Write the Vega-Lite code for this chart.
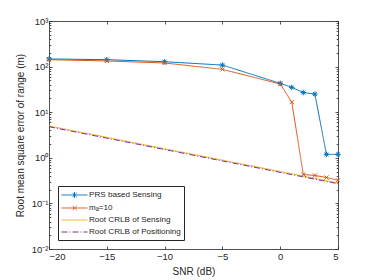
{
  "$schema": "https://vega.github.io/schema/vega-lite/v6.json",
  "width": 289,
  "height": 228,
  "autosize": {"type": "none"},
  "padding": {"left": 49, "top": 21, "right": 36, "bottom": 31},
  "background": "white",
  "config": {
    "view": {"stroke": null},
    "font": "Liberation Sans",
    "axis": {
      "grid": false,
      "domainColor": "#262626",
      "domainWidth": 0.8,
      "tickColor": "#262626",
      "tickWidth": 0.8,
      "labelColor": "#262626",
      "titleColor": "#262626",
      "labelFont": "Liberation Sans",
      "titleFont": "Liberation Sans",
      "labelFontSize": 9.5,
      "titleFontSize": 10,
      "titleFontWeight": "normal"
    }
  },
  "data": {
    "values": [
      {"snr": -20, "value": 147, "series": "PRS based Sensing"},
      {"snr": -15, "value": 142, "series": "PRS based Sensing"},
      {"snr": -10, "value": 128, "series": "PRS based Sensing"},
      {"snr": -5, "value": 108, "series": "PRS based Sensing"},
      {"snr": 0, "value": 43, "series": "PRS based Sensing"},
      {"snr": 1, "value": 35, "series": "PRS based Sensing"},
      {"snr": 2, "value": 27, "series": "PRS based Sensing"},
      {"snr": 3, "value": 25, "series": "PRS based Sensing"},
      {"snr": 4, "value": 1.19, "series": "PRS based Sensing"},
      {"snr": 5, "value": 1.19, "series": "PRS based Sensing"},
      {"snr": -20, "value": 142, "series": "mₐ=10"},
      {"snr": -15, "value": 133, "series": "mₐ=10"},
      {"snr": -10, "value": 120, "series": "mₐ=10"},
      {"snr": -5, "value": 87, "series": "mₐ=10"},
      {"snr": 0, "value": 41.5, "series": "mₐ=10"},
      {"snr": 1, "value": 16.7, "series": "mₐ=10"},
      {"snr": 2, "value": 0.43, "series": "mₐ=10"},
      {"snr": 3, "value": 0.41, "series": "mₐ=10"},
      {"snr": 4, "value": 0.37, "series": "mₐ=10"},
      {"snr": 5, "value": 0.32, "series": "mₐ=10"},
      {"snr": -20, "value": 5.0, "series": "Root CRLB of Sensing"},
      {"snr": -15, "value": 2.81, "series": "Root CRLB of Sensing"},
      {"snr": -10, "value": 1.58, "series": "Root CRLB of Sensing"},
      {"snr": -5, "value": 0.89, "series": "Root CRLB of Sensing"},
      {"snr": 0, "value": 0.5, "series": "Root CRLB of Sensing"},
      {"snr": 1, "value": 0.446, "series": "Root CRLB of Sensing"},
      {"snr": 2, "value": 0.397, "series": "Root CRLB of Sensing"},
      {"snr": 3, "value": 0.354, "series": "Root CRLB of Sensing"},
      {"snr": 4, "value": 0.316, "series": "Root CRLB of Sensing"},
      {"snr": 5, "value": 0.281, "series": "Root CRLB of Sensing"},
      {"snr": -20, "value": 4.8, "series": "Root CRLB of Positioning"},
      {"snr": -15, "value": 2.7, "series": "Root CRLB of Positioning"},
      {"snr": -10, "value": 1.52, "series": "Root CRLB of Positioning"},
      {"snr": -5, "value": 0.854, "series": "Root CRLB of Positioning"},
      {"snr": 0, "value": 0.48, "series": "Root CRLB of Positioning"},
      {"snr": 1, "value": 0.428, "series": "Root CRLB of Positioning"},
      {"snr": 2, "value": 0.381, "series": "Root CRLB of Positioning"},
      {"snr": 3, "value": 0.34, "series": "Root CRLB of Positioning"},
      {"snr": 4, "value": 0.303, "series": "Root CRLB of Positioning"},
      {"snr": 5, "value": 0.27, "series": "Root CRLB of Positioning"}
    ]
  },
  "layer": [
    {
      "mark": {"type": "line", "strokeWidth": 1, "clip": true},
      "encoding": {
        "x": {
          "field": "snr", "type": "quantitative",
          "scale": {"domain": [-20, 5], "nice": false},
          "axis": {
            "orient": "bottom",
            "title": "SNR (dB)",
            "values": [-20, -15, -10, -5, 0, 5],
            "tickSize": -3,
            "labelPadding": 5,
            "titlePadding": 6
          }
        },
        "y": {
          "field": "value", "type": "quantitative",
          "scale": {"type": "log", "domain": [0.01, 1000], "nice": false},
          "axis": {
            "orient": "left",
            "title": "Root mean square error of range (m)",
            "values": [0.01,0.02,0.03,0.04,0.05,0.06,0.07,0.08,0.09,0.1,0.2,0.3,0.4,0.5,0.6,0.7,0.8,0.9,1,2,3,4,5,6,7,8,9,10,20,30,40,50,60,70,80,90,100,200,300,400,500,600,700,800,900,1000],
            "labelExpr": "datum.value == 1000 ? '10³' : datum.value == 100 ? '10²' : datum.value == 10 ? '10¹' : datum.value == 1 ? '10⁰' : datum.value == 0.1 ? '10⁻¹' : datum.value == 0.01 ? '10⁻²' : ''",
            "tickSize": {"condition": {"test": "indexof([0.01,0.1,1,10,100,1000], datum.value) >= 0", "value": -3}, "value": -1.8},
            "labelPadding": 4,
            "titlePadding": 6
          }
        },
        "color": {
          "field": "series", "type": "nominal",
          "scale": {
            "domain": ["PRS based Sensing", "mₐ=10", "Root CRLB of Sensing", "Root CRLB of Positioning"],
            "range": ["#0072BD", "#D95319", "#EDB120", "#7E2F8E"]
          },
          "legend": {
            "title": null,
            "orient": "none",
            "legendX": 9,
            "legendY": 165,
            "strokeColor": "#262626",
            "fillColor": "white",
            "padding": 3,
            "labelFont": "Liberation Sans",
            "labelFontSize": 8.1,
            "labelColor": "#262626",
            "symbolSize": 121,
            "symbolStrokeWidth": 1,
            "rowPadding": 1,
            "labelOffset": 16,
            "encode": {
              "symbols": {
                "update": {
                  "shape": {"signal": "datum.value == 'PRS based Sensing' ? 'M-1,0H3.73M1.365,-0.55V0.55M0.965,-0.4L1.765,0.4M0.965,0.4L1.765,-0.4' : datum.value == 'mₐ=10' ? 'M-1,0H3.73M0.965,-0.4L1.765,0.4M0.965,0.4L1.765,-0.4' : 'M-1,0H3.73'"},
                  "strokeDash": {"signal": "datum.value == 'Root CRLB of Positioning' ? [6,2,1,2] : []"},
                  "fill": {"value": "transparent"}
                }
              }
            }
          }
        },
        "strokeDash": {
          "field": "series", "type": "nominal",
          "scale": {
            "domain": ["PRS based Sensing", "mₐ=10", "Root CRLB of Sensing", "Root CRLB of Positioning"],
            "range": [[1, 0], [1, 0], [1, 0], [6, 2, 1, 2]]
          },
          "legend": null
        },
        "order": {"field": "snr"}
      }
    },
    {
      "transform": [{"filter": "datum.series == 'PRS based Sensing' || datum.series == 'mₐ=10'"}],
      "mark": {"type": "point", "filled": false, "strokeWidth": 1, "size": 30, "opacity": 1},
      "encoding": {
        "x": {
          "field": "snr", "type": "quantitative",
          "axis": {"orient": "top", "title": null, "labels": false, "values": [-20, -15, -10, -5, 0, 5], "tickSize": -3, "domain": true}
        },
        "y": {
          "field": "value", "type": "quantitative",
          "axis": {
            "orient": "right", "title": null, "labels": false,
            "values": [0.01,0.02,0.03,0.04,0.05,0.06,0.07,0.08,0.09,0.1,0.2,0.3,0.4,0.5,0.6,0.7,0.8,0.9,1,2,3,4,5,6,7,8,9,10,20,30,40,50,60,70,80,90,100,200,300,400,500,600,700,800,900,1000],
            "tickSize": {"condition": {"test": "indexof([0.01,0.1,1,10,100,1000], datum.value) >= 0", "value": -3}, "value": -1.8}
          }
        },
        "color": {"field": "series", "type": "nominal", "legend": null},
        "shape": {
          "field": "series", "type": "nominal",
          "scale": {
            "domain": ["PRS based Sensing", "mₐ=10"],
            "range": ["M-1,0H1M0,-1V1M-0.72,-0.72L0.72,0.72M-0.72,0.72L0.72,-0.72", "M-0.75,-0.75L0.75,0.75M-0.75,0.75L0.75,-0.75"]
          },
          "legend": null
        }
      }
    }
  ],
  "resolve": {"axis": {"x": "independent", "y": "independent"}}
}
